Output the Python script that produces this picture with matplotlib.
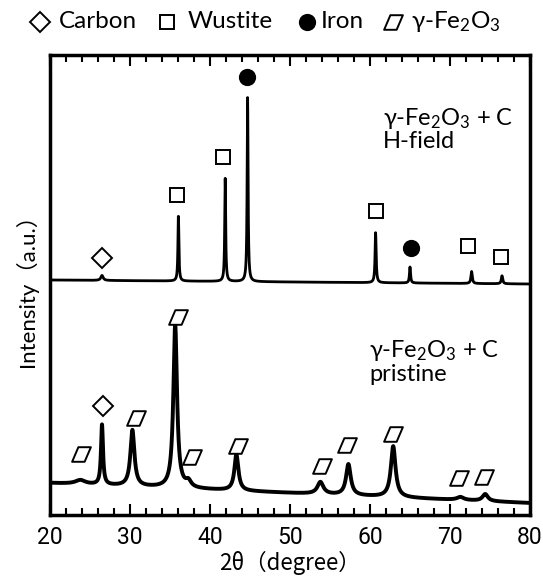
import numpy as np
import matplotlib
matplotlib.use('Agg')
import matplotlib.pyplot as plt
from matplotlib.path import Path
from matplotlib.ticker import MultipleLocator

# ---------------- data ----------------
two_theta = np.arange(20.0, 80.001, 0.02)

# H-field pattern (peak centre, height, FWHM) and linear baseline (20 deg, 80 deg)
hf_pos = [26.5, 36.05, 41.9, 44.7, 60.7, 65.0, 72.7, 76.5]
hf_height = [5, 66, 103, 184, 50, 16, 12, 8]
hf_fwhm = [0.35, 0.14, 0.14, 0.14, 0.16, 0.16, 0.2, 0.2]
hf_base = [235, 231]

# pristine pattern
pr_pos = [23.8, 26.5, 30.3, 35.65, 37.3, 43.3, 53.8, 57.3, 62.9, 71.3, 74.4]
pr_height = [4, 60, 56, 163, 6, 36, 12, 31, 51, 3, 7]
pr_fwhm = [1.5, 0.3, 0.6, 0.55, 0.8, 0.6, 0.9, 0.7, 0.7, 1.0, 0.8]
pr_base = [32, 12]

# phase markers
hf_carbon_x, hf_carbon_y = [26.5], [257]
hf_wustite_x = [35.9, 41.6, 60.75, 72.3, 76.4]
hf_wustite_y = [320, 358, 304, 269, 258]
hf_iron_x = [44.6, 65.1]
hf_iron_y = [438, 267]
pr_carbon_x, pr_carbon_y = [26.6], [109]
pr_fe2o3_x = [23.9, 30.75, 35.96, 37.75, 43.5, 53.96, 57.08, 62.9, 71.1, 74.3]
pr_fe2o3_y = [61, 97, 198, 58, 69, 49, 70, 81, 37, 38]

legend_labels = ['Carbon', 'Wustite', 'Iron', r'γ-Fe$_2$O$_3$']
hf_label = 'γ-Fe$_2$O$_3$ + C\nH-field'
pr_label = 'γ-Fe$_2$O$_3$ + C\npristine'


def pattern(pos, height, fwhm, base):
    y = base[0] + (base[1] - base[0]) * (two_theta - 20.0) / 60.0
    for p, h, w in zip(pos, height, fwhm):
        y = y + h / (1.0 + ((two_theta - p) / (w / 2.0)) ** 2)
    return y


hf_y = pattern(hf_pos, hf_height, hf_fwhm, hf_base)
pr_y = pattern(pr_pos, pr_height, pr_fwhm, pr_base)

# ---------------- style ----------------
plt.rcParams['font.family'] = ['Lato', 'DejaVu Sans']
plt.rcParams['mathtext.fontset'] = 'custom'
plt.rcParams['mathtext.rm'] = 'Lato'
plt.rcParams['mathtext.it'] = 'Lato:italic'

para = Path([(-9, -7), (3, -7), (9, 7), (-3, 7), (-9, -7)],
            [Path.MOVETO, Path.LINETO, Path.LINETO, Path.LINETO, Path.CLOSEPOLY])

W, H = 543, 581
fig = plt.figure(figsize=(W / 100, H / 100), dpi=100)
ax = fig.add_axes([50 / W, 1 - 515 / H, 480 / W, 460 / H])

ax.plot(two_theta, hf_y, color='black', lw=2.0)
ax.plot(two_theta, pr_y, color='black', lw=2.8)

mk = dict(linestyle='none', markeredgecolor='black', markeredgewidth=1.4)
ax.plot(hf_carbon_x, hf_carbon_y, marker='D', ms=10, mfc='white', **mk)
ax.plot(pr_carbon_x, pr_carbon_y, marker='D', ms=10, mfc='white', **mk)
ax.plot(hf_wustite_x, hf_wustite_y, marker='s', ms=10, mfc='white', **mk)
ax.plot(hf_iron_x, hf_iron_y, marker='o', ms=11, mfc='black', **mk)
ax.plot(pr_fe2o3_x, pr_fe2o3_y, marker=para, ms=13.5, mfc='white', **mk)

ax.set_xlim(20, 80)
ax.set_ylim(0, 460)
ax.xaxis.set_major_locator(MultipleLocator(10))
ax.xaxis.set_minor_locator(MultipleLocator(2))
ax.tick_params(axis='x', which='both', direction='in', top=True, bottom=True,
               width=1.5, pad=8)
ax.tick_params(axis='x', which='major', length=8)
ax.tick_params(axis='x', which='minor', length=5)
ax.tick_params(axis='y', left=False, labelleft=False)
for lab in ax.get_xticklabels():
    lab.set_family(['Roboto', 'DejaVu Sans'])
    lab.set_fontsize(16.5)
for s in ax.spines.values():
    s.set_linewidth(2.5)

ax.set_xlabel('2θ（degree）', family=['Noto Sans CJK JP', 'DejaVu Sans'],
              fontsize=16, labelpad=1)
ax.set_ylabel('Intensity（a.u.）', family=['Lato', 'Noto Sans CJK JP', 'DejaVu Sans'],
              fontsize=16, labelpad=9)

ax.text(0.694, 0.89, hf_label, transform=ax.transAxes, ha='left', va='top',
        fontsize=17, linespacing=1.05)
ax.text(0.665, 0.385, pr_label, transform=ax.transAxes, ha='left', va='top',
        fontsize=17, linespacing=1.05)

# legend row across the top
lax = fig.add_axes([0, 0, 1, 1])
lax.set_xlim(0, W)
lax.set_ylim(H, 0)
lax.axis('off')
ly = 22
lax.plot([40], [ly], marker='D', ms=10.5, mfc='white', **mk)
lax.plot([167], [ly], marker='s', ms=10, mfc='white', **mk)
lax.plot([307], [ly], marker='o', ms=11, mfc='black', **mk)
lax.plot([393], [ly], marker=para, ms=13.5, mfc='white', **mk)
for x, t in zip([59, 188, 321, 411], legend_labels):
    lax.text(x, ly, t, ha='left', va='center', fontsize=17.5)

fig.savefig('out.png', dpi=100)
